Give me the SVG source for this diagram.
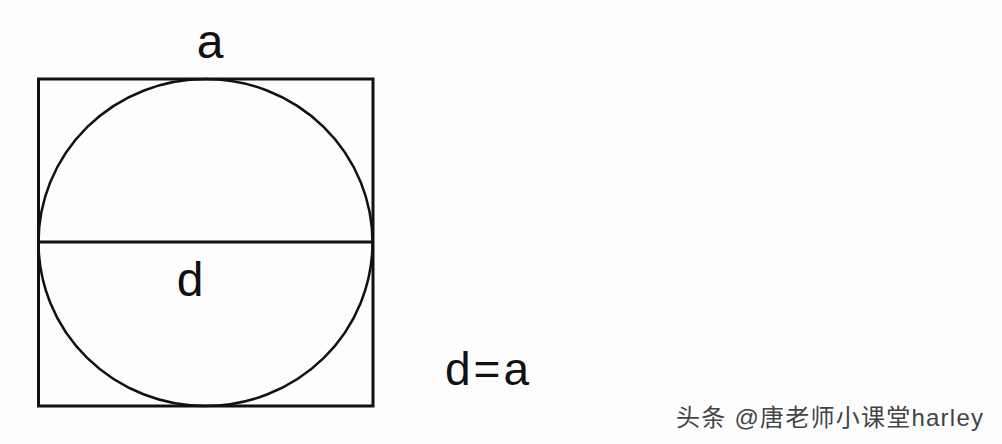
<svg xmlns="http://www.w3.org/2000/svg" width="1002" height="444" viewBox="0 0 1002 444">
<style>
.ln{fill:none;stroke:#111;}
.lbl{font-family:"Liberation Sans",Arial,sans-serif;fill:#111;}
.wm{font-family:"Liberation Sans","Noto Sans CJK SC",sans-serif;font-size:24px;fill:#444;stroke:#fff;stroke-width:0.6;paint-order:stroke;}
</style>
<rect width="1002" height="444" fill="#fdfdfd"/>
<g id="square"><rect class="ln" x="38.5" y="79" width="334.5" height="327" stroke-width="3"/></g>
<g id="circle"><ellipse class="ln" cx="205.5" cy="242.5" rx="167" ry="163.5" stroke-width="2.5"/></g>
<g id="connectors"><line class="ln" x1="38" y1="242" x2="373" y2="242" stroke-width="3"/></g>
<g id="label-a"><text class="lbl" x="210" y="58" font-size="48" text-anchor="middle">a</text></g>
<g id="label-d"><text class="lbl" x="190" y="296" font-size="48" text-anchor="middle">d</text></g>
<g id="label-eq"><text class="lbl" x="445" y="385" font-size="46" letter-spacing="3">d=a</text></g>
<g id="watermark"><text class="wm" x="676" y="426" textLength="307" lengthAdjust="spacing">头条 @唐老师小课堂harley</text></g>
</svg>
